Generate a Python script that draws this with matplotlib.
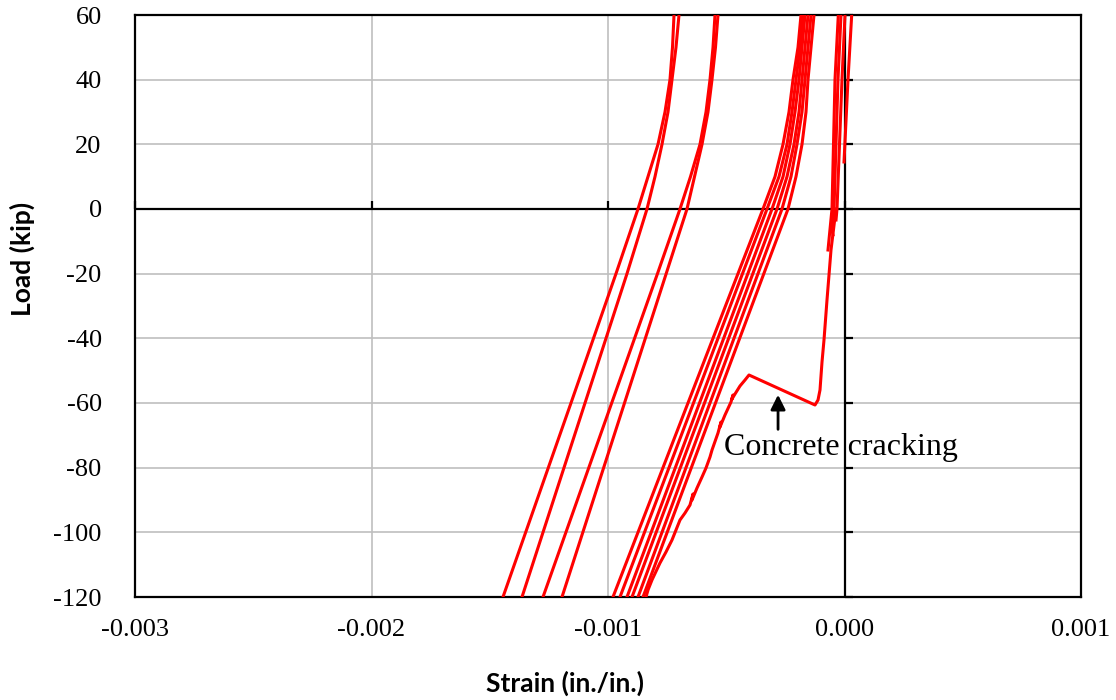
# import the libraries
import numpy as np
import matplotlib.pyplot as plt
plt.rcParams['axes.unicode_minus'] = False

# strain (in./in.) and load (kip), one list pair per curve
# far left loops
ab_load = [-120, -60, -20, -10, 0, 10, 20, 30, 40, 50, 60]
a1_strain = [-0.0014440, -0.0011565, -0.0009662, -0.0009197, -0.0008732, -0.0008309, -0.0007886,
             -0.0007590, -0.0007379, -0.0007273, -0.0007209]
a2_strain = [-0.0013636, -0.0010972, -0.0009197, -0.0008774, -0.0008351, -0.0008013, -0.0007717,
             -0.0007463, -0.0007294, -0.0007125, -0.0006998]
b1_strain = [-0.0012748, -0.0009844, -0.0007908, -0.0007432, -0.0006956, -0.0006512, -0.0006110,
             -0.0005856, -0.0005687, -0.0005560, -0.0005476]
b2_strain = [-0.0011945, -0.0009302, -0.0007540, -0.0007100, -0.0006660, -0.0006342, -0.0006025,
             -0.0005772, -0.0005603, -0.0005455, -0.0005349]

# middle loops
c_load = [-120, 0, 10, 20, 30, 40, 50, 60]
c1_strain = [-0.0009789, -0.0003447, -0.0002939, -0.0002600, -0.0002347, -0.0002178, -0.0001966, -0.0001839]
c2_strain = [-0.0009493, -0.0003277, -0.0002770, -0.0002431, -0.0002220, -0.0002051, -0.0001882, -0.0001755]
c3_strain = [-0.0009197, -0.0003065, -0.0002600, -0.0002304, -0.0002093, -0.0001924, -0.0001797, -0.0001670]
c4_strain = [-0.0008985, -0.0002854, -0.0002431, -0.0002135, -0.0001924, -0.0001797, -0.0001670, -0.0001543]
c5_strain = [-0.0008732, -0.0002643, -0.0002262, -0.0002008, -0.0001797, -0.0001670, -0.0001543, -0.0001416]
c6_strain = [-0.0008520, -0.0002389, -0.0002051, -0.0001797, -0.0001628, -0.0001543, -0.0001416, -0.0001290]

# first loading with the cracking jump
e_strain = [-0.0000359, -0.0000571, -0.0000740, -0.0000867, -0.0000951, -0.0001036, -0.0001120, -0.0001247,
            -0.0004038, -0.0004207, -0.0004419, -0.0004630, -0.0004757, -0.0004715, -0.0004799,
            -0.0005053, -0.0005264, -0.0005222, -0.0005349, -0.0005602, -0.0005687, -0.0005856,
            -0.0006025, -0.0006237, -0.0006448, -0.0006406, -0.0006533, -0.0006744, -0.0006956,
            -0.0007125, -0.0007294, -0.0007548, -0.0007802, -0.0008140, -0.0008309, -0.0008393]
e_load = [0, -12.68, -28.14, -40.52, -47.32, -55.98, -59.07, -60.62,
          -51.34, -52.89, -54.74, -57.22, -58.76, -57.53, -59.69,
          -63.71, -67.42, -65.88, -69.28, -74.54, -76.70, -80.10,
          -82.89, -86.29, -90.0, -88.14, -91.55, -94.02, -96.19,
          -99.28, -102.37, -106.08, -109.48, -114.74, -117.84, -120.0]

# loops close to zero strain
d1_strain = [-0.0000262, -0.0000402, -0.0000529, -0.0000698]
d1_load = [60, 40, 0, -12.68]
d2_strain = [-0.0000148, -0.0000275, -0.0000444, -0.0000529, -0.0000487]
d2_load = [60, 40, 0, -6.49, -8.0]
d3_strain = [0.0000021, -0.0000106, -0.0000317, -0.0000359]
d3_load = [60, 40, 0, -3.40]
d4_strain = [0.0000304, 0.0000148, -0.0000021]
d4_load = [60, 40, 14.54]

x_ticks = [-0.003, -0.002, -0.001, 0.000, 0.001]
x_labels = ['-0.003', '-0.002', '-0.001', '0.000', '0.001']
y_ticks = [-120, -100, -80, -60, -40, -20, 0, 20, 40, 60]

curves = [(a1_strain, ab_load), (a2_strain, ab_load), (b1_strain, ab_load), (b2_strain, ab_load),
          (c1_strain, c_load), (c2_strain, c_load), (c3_strain, c_load), (c4_strain, c_load),
          (c5_strain, c_load), (c6_strain, c_load), (e_strain, e_load),
          (d1_strain, d1_load), (d2_strain, d2_load), (d3_strain, d3_load), (d4_strain, d4_load)]

# figure
fig = plt.figure(figsize=(11.16, 7), dpi=100)
ax = fig.add_axes([135 / 1116, 103 / 700, 946 / 1116, 582 / 700])

for s, p in curves:
    ax.plot(s, p, color='#ff0000', lw=2.2, zorder=5, solid_joinstyle='round')

ax.set_xlim(-0.003, 0.001)
ax.set_ylim(-120, 60)
ax.set_xticks(x_ticks)
ax.set_xticklabels(x_labels)
ax.set_yticks(y_ticks)
ax.tick_params(length=0, labelsize=19)
ax.tick_params(axis='y', pad=24)
ax.tick_params(axis='x', pad=16)
for lab in ax.get_xticklabels() + ax.get_yticklabels():
    lab.set_family('Liberation Serif')

ax.grid(True, color='#bfbfbf', lw=1.2, zorder=0)
for sp in ax.spines.values():
    sp.set_linewidth(1.6)
    sp.set_color('black')

# axes crossing at zero, with their own tick marks
ax.axhline(0, color='black', lw=1.6, zorder=3)
ax.axvline(0, color='black', lw=1.6, zorder=3)
ax.plot(np.zeros(len(y_ticks)), y_ticks, ls='none', marker=1, ms=6, mew=1.6, color='black', zorder=3, clip_on=False)
ax.plot(x_ticks[:-1], np.zeros(len(x_ticks) - 1), ls='none', marker=2, ms=6, mew=1.6, color='black', zorder=3, clip_on=False)

# annotation
ax.annotate('', xy=(-0.000281, -56.6), xytext=(-0.000281, -69.0),
            arrowprops=dict(arrowstyle='-|>', color='black', lw=2, mutation_scale=22), zorder=6)
ax.text(-0.0000148, -73.9, 'Concrete cracking', family='Liberation Serif', fontsize=23,
        ha='center', va='center', zorder=6)

# axis labels
fig.text(565 / 1116, 1 - 683 / 700, 'Strain (in./in.)', family='Lato', weight='bold',
         fontsize=19, ha='center', va='center')
fig.text(22 / 1116, 1 - 259 / 700, 'Load (kip)', family='Lato', weight='bold',
         fontsize=19, ha='center', va='center', rotation=90)

plt.savefig('out.png', dpi=100)
